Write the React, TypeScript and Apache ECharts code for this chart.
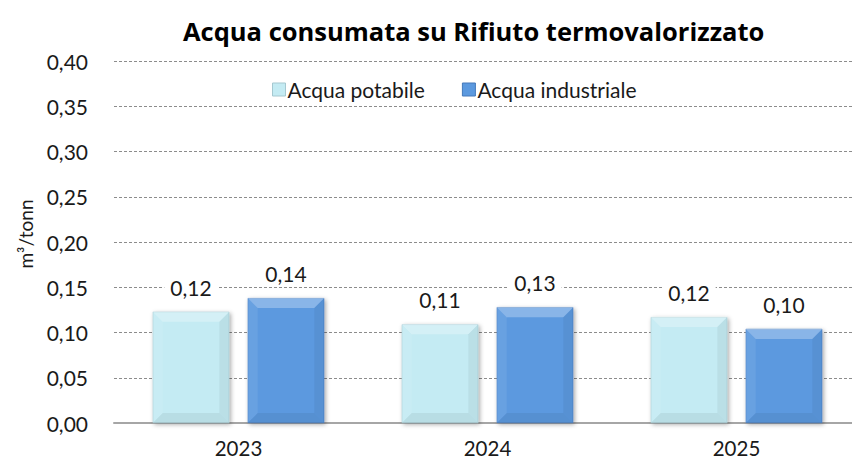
import React, { useEffect, useRef } from "react";
import * as echarts from "echarts";

const years = ["2023", "2024", "2025"];
const potabile = [0.123, 0.109, 0.117];
const industriale = [0.138, 0.128, 0.104];
const seriesNames = ["Acqua potabile", "Acqua industriale"];
const yTicks = { min: 0, max: 0.4, interval: 0.05 };
const yName = "m³/tonn";
const titleText = "Acqua consumata su Rifiuto termovalorizzato";

const FONT = "Lato, 'Noto Sans', sans-serif";
const TFONT = "'Open Sans', 'Noto Sans', sans-serif";
const BAR_W = 0.3076;
const BAR_GAP = 0.24;

const fmt = (v: number) => v.toFixed(2).replace(".", ",");

function bevelItem(seriesIdx: number) {
  return (params: any, api: any) => {
    const catW = api.size([1, 0])[0];
    const bw = catW * BAR_W;
    const off = (bw + bw * BAR_GAP) / 2;
    const center = api.coord([api.value(0), 0]);
    const topP = api.coord([api.value(0), api.value(1)]);
    const cx = center[0] + (seriesIdx === 0 ? -off : off);
    const x0 = cx - bw / 2;
    const x1 = cx + bw / 2;
    const y0 = topP[1];
    const yb = center[1];
    const b = Math.min(10, (yb - y0) / 2);
    return {
      type: "group",
      children: [
        {
          type: "polygon",
          shape: { points: [[x0, y0], [x1, y0], [x1 - b, y0 + b], [x0 + b, y0 + b]] },
          style: { fill: "rgba(255,255,255,0.28)" },
        },
        {
          type: "polygon",
          shape: { points: [[x0, yb], [x1, yb], [x1 - b, yb - b], [x0 + b, yb - b]] },
          style: { fill: "rgba(0,0,0,0.06)" },
        },
        {
          type: "polygon",
          shape: { points: [[x1, y0], [x1, yb], [x1 - b, yb - b], [x1 - b, y0 + b]] },
          style: { fill: "rgba(0,0,0,0.05)" },
        },
        {
          type: "polygon",
          shape: { points: [[x0, y0], [x0, yb], [x0 + b, yb - b], [x0 + b, y0 + b]] },
          style: { fill: "rgba(255,255,255,0.08)" },
        },
      ],
    };
  };
}

export default function App() {
  const ref = useRef<HTMLDivElement>(null);
  useEffect(() => {
    if (!ref.current) return;
    const chart = echarts.init(ref.current, null, { renderer: "svg" });
    const colors = ["#c4ebf3", "#5b99df"];
    const borders = ["#a5c8d0", "#4479ba"];
    const mkBar = (name: string, data: number[], i: number) => ({
      name,
      type: "bar",
      data,
      barWidth: (BAR_W * 100).toFixed(2) + "%",
      barGap: BAR_GAP * 100 + "%",
      itemStyle: {
        color: colors[i],
        borderColor: borders[i],
        borderWidth: 0.5,
        shadowBlur: 4,
        shadowColor: "rgba(0,0,0,0.35)",
        shadowOffsetX: 1.5,
        shadowOffsetY: 1.5,
      },
      label: {
        show: true,
        position: "top",
        distance: 13,
        formatter: (p: any) => fmt(p.value),
        fontFamily: FONT,
        fontSize: 21,
        color: "#1a1a1a",
        backgroundColor: "#ffffff",
        padding: [1, 6],
      },
      z: 2,
    });
    const mkBevel = (data: number[], i: number) => ({
      type: "custom",
      renderItem: bevelItem(i),
      data: data.map((v, k) => [k, v]),
      encode: { x: 0, y: 1 },
      silent: true,
      z: 3,
    });
    chart.setOption({
      animation: false,
      backgroundColor: "#ffffff",
      title: {
        text: titleText,
        left: 178,
        top: 13,
        textStyle: { fontFamily: TFONT, fontSize: 25.5, fontWeight: "bold", color: "#000" },
      },
      legend: {
        data: seriesNames.map((n, i) => ({
          name: n,
          icon: "rect",
          itemStyle: { color: colors[i], borderColor: borders[i], borderWidth: 1 },
        })),
        left: 267,
        top: 74,
        itemWidth: 13,
        itemHeight: 13,
        itemGap: 37,
        textStyle: { fontFamily: FONT, fontSize: 21, color: "#1a1a1a", padding: [0, 0, 0, -3] },
      },
      graphic: [
        {
          type: "text",
          x: 25,
          y: 234,
          rotation: Math.PI / 2,
          style: {
            text: yName,
            fontFamily: FONT,
            fontSize: 19,
            fill: "#1a1a1a",
            align: "center",
            verticalAlign: "middle",
          },
        },
      ],
      grid: { left: 114, right: 0, top: 61, bottom: 38 },
      xAxis: {
        type: "category",
        data: years,
        axisLine: { lineStyle: { color: "#a6a6a6", width: 2 } },
        axisTick: { show: false },
        axisLabel: { fontFamily: FONT, fontSize: 20.5, color: "#1a1a1a", margin: 14 },
      },
      yAxis: {
        type: "value",
        min: yTicks.min,
        max: yTicks.max,
        interval: yTicks.interval,
        axisLine: { show: false },
        axisTick: { show: false },
        axisLabel: {
          formatter: (v: number) => fmt(v),
          fontFamily: FONT,
          fontSize: 21,
          color: "#1a1a1a",
          margin: 26,
        },
        splitLine: { lineStyle: { color: "#8c8c8c", type: [3, 2], width: 1 } },
      },
      series: [
        mkBar(seriesNames[0], potabile, 0),
        mkBar(seriesNames[1], industriale, 1),
        mkBevel(potabile, 0),
        mkBevel(industriale, 1),
      ],
    });
    return () => chart.dispose();
  }, []);
  return (
    <div
      style={{
        position: "fixed",
        left: 0,
        top: 0,
        width: 852,
        height: 461,
        overflow: "hidden",
        background: "#fff",
      }}
    >
      <div ref={ref} style={{ width: 861, height: 461 }} />
    </div>
  );
}
